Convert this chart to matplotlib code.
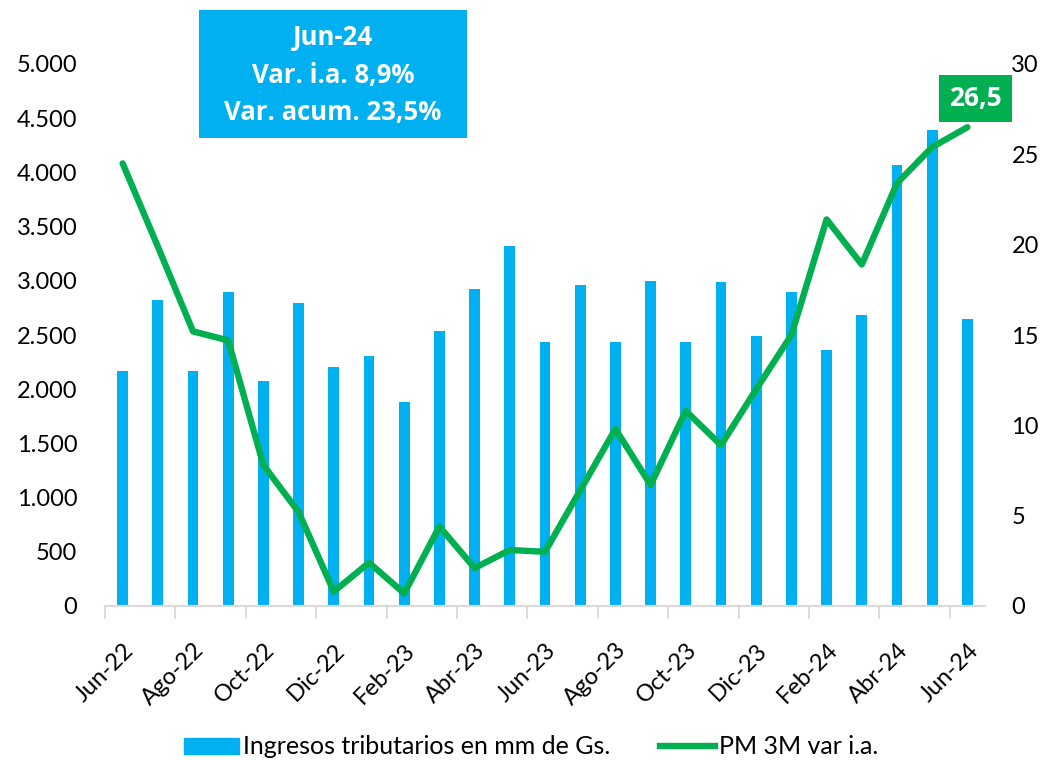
import matplotlib

matplotlib.use("Agg")
import matplotlib.pyplot as plt
from matplotlib.lines import Line2D
from matplotlib.patches import Patch, Rectangle
from matplotlib.ticker import FixedLocator, FuncFormatter, MultipleLocator

BLUE, GREEN, AXIS = "#00B0F0", "#00B050", "#D9D9D9"

months = ["Jun-22", "Jul-22", "Ago-22", "Sep-22", "Oct-22", "Nov-22", "Dic-22",
          "Ene-23", "Feb-23", "Mar-23", "Abr-23", "May-23", "Jun-23", "Jul-23",
          "Ago-23", "Sep-23", "Oct-23", "Nov-23", "Dic-23", "Ene-24", "Feb-24",
          "Mar-24", "Abr-24", "May-24", "Jun-24"]
ingresos = [2165, 2825, 2165, 2900, 2080, 2795, 2205, 2310, 1880, 2535, 2925,
            3320, 2435, 2960, 2435, 2995, 2435, 2985, 2490, 2900, 2365, 2680,
            4065, 4390, 2650]
pm3m = [24.5, 19.9, 15.2, 14.7, 7.8, 5.2, 0.8, 2.4, 0.7, 4.4, 2.1, 3.1, 3.0,
        6.4, 9.8, 6.7, 10.8, 8.9, 12.0, 15.0, 21.4, 18.9, 23.4, 25.4, 26.5]
box_lines = ["Jun-24", "Var. i.a. 8,9%", "Var. acum. 23,5%"]
last_label = "26,5"

plt.rcParams["font.family"] = ["Lato", "DejaVu Sans"]

fig = plt.figure(figsize=(10.43, 7.61), dpi=100)
ax = fig.add_axes([105 / 1043, 155 / 761, 880 / 1043, 542 / 761])
ax2 = ax.twinx()

x = list(range(len(months)))
ax.bar(x, ingresos, width=0.31, color=BLUE, zorder=2)
ax2.plot(x, pm3m, color=GREEN, lw=4.6, solid_joinstyle="round",
         solid_capstyle="round", zorder=3)

ax.set_xlim(-0.5, len(months) - 0.5)
ax.set_ylim(0, 5000)
ax2.set_ylim(0, 30)
ax.yaxis.set_major_locator(MultipleLocator(500))
ax.yaxis.set_major_formatter(FuncFormatter(lambda v, p: f"{v:,.0f}".replace(",", ".")))
ax2.yaxis.set_major_locator(MultipleLocator(5))

# month labels every two months, tick marks on category boundaries
ax.set_xticks(x[::2])
ax.set_xticklabels(months[::2], rotation=45, ha="right", rotation_mode="anchor")
ax.xaxis.set_minor_locator(FixedLocator([i - 0.5 for i in x[::2]]))
ax.tick_params(axis="x", which="major", length=0, pad=24, labelsize=17)
ax.tick_params(axis="x", which="minor", length=9, width=1.3, color=AXIS)
ax.tick_params(axis="y", length=0, pad=20, labelsize=17)
ax2.tick_params(axis="y", length=0, pad=19, labelsize=17)

for a in (ax, ax2):
    for s in ("top", "right", "left"):
        a.spines[s].set_visible(False)
    a.spines["bottom"].set_color(AXIS)
    a.spines["bottom"].set_linewidth(1.5)

# green value label on the last point
ax2.annotate(last_label, (x[-1], pm3m[-1]), xytext=(6, 21), textcoords="offset points",
             ha="center", va="center", color="white", fontsize=19, fontweight="bold",
             family=["Open Sans", "DejaVu Sans"],
             bbox=dict(boxstyle="square,pad=0.38", fc=GREEN, ec="none"), zorder=5)

# info box top-left
fig.add_artist(Rectangle((199 / 1043, 1 - 138 / 761), 268 / 1043, 128 / 761,
                         transform=fig.transFigure, facecolor=BLUE, edgecolor="none"))
fig.text(333 / 1043, 1 - 75 / 761, "\n".join(box_lines), ha="center", va="center",
         color="white", fontsize=18.5, fontweight="bold", linespacing=1.5,
         family=["Open Sans", "DejaVu Sans"])

fig.legend(handles=[Patch(color=BLUE, label="Ingresos tributarios en mm de Gs."),
                    Line2D([], [], color=GREEN, lw=4.6, label="PM 3M var i.a.")],
           loc="center", bbox_to_anchor=(531 / 1043, 1 - 747 / 761), ncol=2,
           frameon=False, fontsize=18, handlelength=2.2, handleheight=0.6,
           handletextpad=0.15, columnspacing=2.0)

fig.savefig("out.png", dpi=100, facecolor="white")
